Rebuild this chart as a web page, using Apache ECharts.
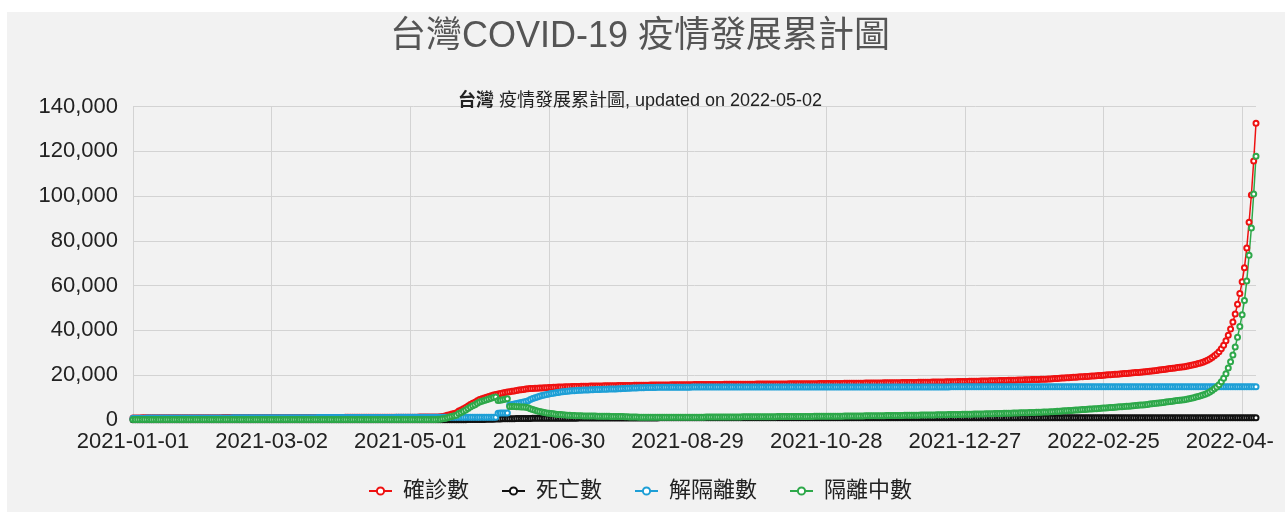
<!DOCTYPE html>
<html>
<head>
<meta charset="utf-8">
<script src="https://cdn.jsdelivr.net/npm/echarts@6.0.0/dist/echarts.min.js"></script>
<style>
  html, body { margin: 0; padding: 0; background: #ffffff; width: 1285px; height: 512px; overflow: hidden; }
  #bg { position: absolute; left: 7px; top: 12px; width: 1278px; height: 500px; background: #f2f2f2; }
  #chart { position: absolute; left: 7px; top: 12px; width: 1266px; height: 500px; }
</style>
</head>
<body>
<div id="bg"></div>
<div id="chart"></div>
<script>
// ---- data (daily, 2021-01-01 .. 2022-05-02) ----
const startDate = '2021-01-01';
const dayCount = 487;
const titleText = '台灣COVID-19 疫情發展累計圖';
const subtitleText = '疫情發展累計圖, updated on 2022-05-02';
const seriesNames = ['確診數', '死亡數', '解隔離數', '隔離中數'];

const confirmed = [
  799,802,806,812,817,819,823,827,828,831,836,838,839,842,845,850,853,855,862,866,868,870,874,881,885,888,889,891,892,907,909,
  911,913,915,918,920,923,925,927,929,932,934,936,937,939,940,942,943,944,945,946,947,948,950,951,953,954,955,955,
  957,960,963,966,970,973,975,978,980,982,985,988,990,992,994,996,998,1000,1003,1005,1008,1010,1012,1014,1016,1018,1020,1022,1024,1027,1030,
  1032,1035,1040,1045,1048,1050,1055,1058,1060,1065,1068,1070,1075,1078,1080,1082,1085,1088,1090,1093,1095,1098,1100,1102,1105,1108,1110,1115,1120,1128,
  1132,1139,1143,1150,1155,1160,1170,1180,1190,1200,1210,1230,1255,1290,1475,1682,2017,2260,2533,2825,3144,3862,4322,4917,5456,6091,6761,7315,7806,8511,8997,
  9342,9716,10076,10400,10734,11050,11298,11491,11694,11968,12222,12402,12542,12719,12857,13041,13235,13422,13555,13707,13822,13933,14005,14059,14114,14156,14216,14267,14340,14411,
  14452,14495,14538,14576,14612,14655,14690,14728,14761,14794,14823,14851,14884,14912,14940,14968,14996,15019,15041,15063,15082,15101,15120,15141,15158,15176,15195,15214,15232,15249,15268,
  15286,15303,15319,15336,15352,15367,15383,15398,15412,15427,15441,15455,15468,15482,15495,15507,15520,15532,15545,15557,15569,15580,15592,15603,15615,15626,15637,15648,15659,15670,15681,
  15690,15699,15708,15717,15726,15735,15744,15752,15761,15770,15778,15787,15795,15804,15812,15820,15829,15837,15845,15853,15861,15869,15877,15885,15893,15901,15909,15917,15925,15933,
  15940,15950,15956,15966,15972,15983,15990,15996,16006,16012,16022,16030,16036,16046,16052,16062,16070,16076,16086,16094,16100,16111,16120,16127,16138,16146,16154,16165,16173,16181,16192,
  16203,16215,16226,16239,16251,16262,16275,16287,16300,16312,16325,16338,16350,16363,16376,16389,16402,16416,16430,16444,16458,16472,16487,16501,16516,16531,16546,16561,16576,16592,
  16608,16624,16641,16657,16674,16691,16708,16726,16743,16761,16779,16797,16816,16835,16854,16873,16893,16913,16933,16953,16974,16995,17016,17038,17060,17082,17104,17127,17150,17174,17198,
  17222,17247,17272,17298,17324,17350,17377,17404,17432,17460,17488,17517,17546,17576,17606,17636,17667,17698,17730,17762,17795,17828,17861,17895,17929,17964,17999,18034,18070,18106,18143,
  18178,18251,18318,18394,18461,18529,18603,18668,18742,18811,18879,18953,19018,19094,19158,19232,19301,19369,19442,19508,19583,19661,19738,19822,19897,19981,20058,20142,
  20221,20300,20380,20460,20540,20620,20700,20790,20880,20970,21060,21150,21250,21350,21460,21570,21690,21810,21930,22060,22190,22320,22460,22600,22740,22880,23020,23160,23300,23440,23580,
  23700,23900,24100,24350,24600,24850,25100,25400,25750,26150,26600,27150,27800,28550,29400,30400,31700,33300,35300,37800,40600,43700,47300,51600,56400,61700,68000,76800,88300,100500,
  115700,132580
];

const deaths = [
  7,7,7,7,7,7,7,7,7,7, 7,7,7,7,7,7,7,7,7,7, 7,7,7,7,7,7,7,7,7,7, 7,
  7,7,7,7,7,7,7,7,7,7, 7,7,7,7,9,9,9,9,9,9, 9,9,9,9,9,9,9,9,
  10,10,10,10,10,10,10,10,10,10, 10,10,10,10,10,10,10,10,10,10, 10,10,10,10,10,10,10,10,10,10, 10,
  10,10,10,10,10,10,10,10,10,10, 11,11,11,11,11,11,11,11,11,11, 11,11,11,11,11,11,11,11,11,11,
  12,12,12,12,12,12,12,12,12,12, 12,12,12,12,12,12,12,13,15,17, 18,19,24,26,29,35,46,50,59,67, 89,
  111,131,166,196,224,255,285,322,348,374, 410,413,427,450,471,490,508,533,555,576, 585,590,595,602,610,617,622,626,631,637,
  640,646,652,659,665,672,677,683,688,694, 699,703,708,712,716,719,723,727,731,735, 739,743,747,751,755,759,764,769,774,779, 784,
  787,789,792,794,796,798,800,802,804,806, 808,810,811,813,814,816,817,818,819,820, 821,822,823,824,825,826,827,828,829,830, 831,
  832,832,833,833,834,834,835,835,836,836, 837,837,838,838,839,839,840,840,841,841, 842,842,843,843,844,844,845,845,845,845,
  845,845,845,845,845,845,845,845,845,845, 846,846,846,846,846,846,846,846,846,846, 847,847,847,847,847,847,847,847,847,847, 847,
  847,847,847,847,847,847,847,847,847,847, 848,848,848,848,848,848,848,848,848,848, 848,848,848,848,848,848,848,848,848,848,
  848,848,848,848,848,848,848,848,848,848, 848,848,848,848,848,849,849,849,849,849, 849,849,849,849,849,850,850,850,850,850, 850,
  850,850,850,850,850,850,850,850,850,850, 850,850,850,850,850,850,850,850,850,850, 851,851,851,851,851,851,851,851,851,851, 851,
  851,851,851,851,851,851,851,851,851,851, 851,851,851,851,852,852,852,852,852,852, 852,852,852,852,852,852,852,852,
  852,852,852,852,852,852,852,852,852,852, 852,852,852,852,852,853,853,853,853,853, 853,853,853,853,853,853,853,853,853,853, 853,
  853,853,853,853,853,853,853,853,853,853, 853,853,853,853,853,853,853,853,853,853, 854,854,854,854,854,855,856,856,857,858,
  860,864
];

const recovered = [
  690,691,695,697,701,703,706,710,712,714,719,721,723,728,730,733,737,739,742,746,748,750,755,757,760,764,766,768,773,775,778,
  781,785,787,791,793,796,800,803,806,810,812,815,819,821,824,828,830,833,837,839,842,846,848,851,855,857,860,864,
  867,871,873,876,880,882,885,889,891,894,898,900,903,907,909,912,916,918,921,925,927,930,934,936,939,943,945,948,952,954,957,
  960,963,967,970,973,976,980,983,986,990,993,996,1000,1003,1006,1010,1013,1016,1020,1023,1026,1030,1033,1036,1040,1043,1046,1050,1053,1056,
  1059,1062,1065,1068,1071,1074,1077,1080,1083,1086,1089,1092,1095,1098,1100,1102,1104,1106,1108,1110,1112,1114,1116,1118,1120,1122,1124,1126,1128,1130,1132,
  1134,1136,1138,1140,1142,1144,1146,2930,2960,2990,3020,3050,6600,6800,7000,7200,7450,7700,7900,8100,8500,9000,9450,9850,10200,10500,10800,11050,11300,11500,
  11700,11880,12050,12200,12340,12470,12590,12700,12800,12900,12990,13060,13120,13180,13230,13280,13330,13380,13420,13460,13500,13540,13580,13620,13650,13680,13710,13740,13770,13800,13830,
  13900,13960,14020,14080,14140,14190,14230,14270,14300,14330,14360,14380,14400,14420,14440,14460,14470,14480,14490,14500,14510,14520,14530,14540,14545,14550,14555,14560,14565,14570,14575,
  14580,14580,14580,14580,14580,14580,14580,14580,14580,14580, 14590,14590,14590,14590,14590,14590,14590,14590,14590,14590, 14600,14600,14600,14600,14600,14600,14600,14600,14600,14600,
  14610,14610,14610,14610,14610,14610,14610,14610,14610,14610, 14620,14620,14620,14620,14620,14620,14620,14620,14620,14620, 14630,14630,14630,14630,14630,14630,14630,14630,14630,14630, 14630,
  14640,14640,14640,14640,14640,14640,14640,14640,14640,14640, 14650,14650,14650,14650,14650,14650,14650,14650,14650,14650, 14660,14660,14660,14660,14660,14660,14660,14660,14660,14660,
  14670,14670,14670,14670,14670,14670,14670,14670,14670,14670, 14680,14680,14680,14680,14680,14680,14680,14680,14680,14680, 14690,14690,14690,14690,14690,14690,14690,14690,14690,14690, 14690,
  14700,14700,14700,14700,14700,14700,14700,14700,14700,14700, 14700,14700,14700,14700,14700,14700,14700,14700,14700,14700, 14700,14700,14700,14700,14700,14700,14700,14700,14700,14700, 14700,
  14710,14710,14710,14710,14710,14710,14710,14710,14710,14710, 14710,14710,14710,14710,14710,14710,14710,14710,14710,14710, 14710,14710,14710,14710,14710,14710,14710,14710,
  14720,14720,14720,14720,14720,14720,14720,14720,14720,14720, 14720,14720,14720,14720,14720,14720,14720,14720,14720,14720, 14720,14720,14720,14720,14720,14720,14720,14720,14720,14720, 14720,
  14730,14730,14730,14730,14730,14730,14730,14730,14730,14730, 14730,14730,14730,14730,14730,14730,14730,14730,14730,14730, 14730,14730,14730,14730,14730,14730,14730,14730,14730,14730,
  14730,14730
];

const active = [
  109,111,111,115,116,116,117,117,116,117,117,117,116,114,115,117,116,116,120,120,120,120,119,124,125,124,123,123,119,132,131,
  130,128,128,127,127,127,125,124,123,122,122,121,118,118,116,114,113,111,108,107,105,102,102,100,98,97,95,91,
  90,89,90,90,90,91,90,89,89,88,87,88,87,85,85,84,82,82,82,80,81,80,78,78,77,75,75,74,72,73,73,
  72,72,73,75,75,74,75,75,74,75,75,74,75,75,74,72,72,72,70,70,69,68,67,66,65,65,64,65,67,72,
  73,77,78,82,84,86,93,100,107,114,121,138,160,192,375,580,913,1154,1425,1715,2032,2748,3206,3799,4336,4969,5637,6189,6678,7381,7865,
  8208,8580,8938,9260,9592,9906,10152,8561,8734,8978,9202,9352,5942,5919,5857,5841,5785,5722,5655,5607,5322,4933,4555,4209,3914,3656,3416,3217,3040,2911,
  2752,2615,2488,2376,2272,2185,2100,2028,1961,1894,1833,1791,1764,1732,1710,1688,1666,1639,1621,1603,1582,1561,1540,1521,1508,1496,1485,1474,1462,1449,1438,
  1386,1343,1299,1256,1212,1177,1153,1128,1112,1097,1081,1075,1068,1062,1055,1047,1050,1052,1055,1057,1059,1060,1062,1063,1070,1076,1082,1088,1094,1100,1106,
  1110,1119,1128,1137,1146,1155,1164,1172,1181,1190,1188,1197,1205,1214,1222,1230,1239,1247,1255,1263,1261,1269,1277,1285,1293,1301,1309,1317,1325,1333,
  1330,1340,1346,1356,1362,1373,1380,1386,1396,1402,1402,1410,1416,1426,1432,1442,1450,1456,1466,1474,1470,1481,1490,1497,1508,1516,1524,1535,1543,1551,1562,
  1563,1575,1586,1599,1611,1622,1635,1647,1660,1672,1675,1688,1700,1713,1726,1739,1752,1766,1780,1794,1798,1812,1827,1841,1856,1871,1886,1901,1916,1932,
  1938,1954,1971,1987,2004,2021,2038,2056,2073,2091,2099,2117,2136,2155,2174,2193,2213,2233,2253,2273,2284,2305,2326,2348,2370,2392,2414,2437,2460,2484,2508,
  2522,2547,2572,2598,2624,2650,2677,2704,2732,2760,2788,2817,2846,2876,2906,2936,2967,2998,3030,3062,3095,3128,3161,3195,3229,3264,3299,3334,3370,3406,3443,
  3468,3541,3608,3684,3751,3819,3893,3958,4032,4101,4169,4243,4308,4384,4448,4522,4591,4659,4732,4798,4873,4951,5028,5112,5187,5271,5348,5432,
  5501,5580,5660,5740,5820,5900,5980,6070,6160,6250,6340,6430,6530,6630,6740,6850,6970,7090,7210,7340,7470,7600,7740,7880,8020,8160,8300,8440,8580,8720,8860,
  8970,9170,9370,9620,9870,10120,10370,10670,11020,11420,11870,12420,13070,13820,14670,15670,16970,18570,20570,23070,25870,28970,32570,36870,41670,46970,53270,62070,73570,85770,
  100970,117850
];

// category labels: one per day
const dates = [];
(function () {
  const t0 = Date.UTC(2021, 0, 1);
  for (let i = 0; i < dayCount; i++) {
    const d = new Date(t0 + i * 86400000);
    const m = String(d.getUTCMonth() + 1).padStart(2, '0');
    const dd = String(d.getUTCDate()).padStart(2, '0');
    dates.push(d.getUTCFullYear() + '-' + m + '-' + dd);
  }
})();

const colors = ['#ee1111', '#111111', '#1e9fd6', '#2ea84a'];
const FONT = "'Liberation Sans', Arial, 'Noto Sans CJK TC', sans-serif";

function fmt(v) { return String(v).replace(/\B(?=(\d{3})+(?!\d))/g, ','); }

function mkSeries(name, data, color) {
  return {
    name: name,
    type: 'line',
    data: data,
    symbol: 'emptyCircle',
    symbolSize: 5,
    showAllSymbol: true,
    showSymbol: true,
    sampling: null,
    lineStyle: { color: color, width: 1.5 },
    itemStyle: { color: color, borderColor: color, borderWidth: 1.6 },
    emphasis: { disabled: true },
    animation: false
  };
}

const chart = echarts.init(document.getElementById('chart'), null, { renderer: 'canvas' });
chart.setOption({
  animation: false,
  backgroundColor: 'transparent',
  textStyle: { fontFamily: FONT },
  title: [
    {
      text: titleText,
      left: 'center',
      top: 2,
      textStyle: { fontSize: 36, fontWeight: 'normal', color: '#555555', fontFamily: FONT }
    },
    {
      text: '{b|台灣} ' + subtitleText,
      left: 'center',
      top: 75,
      textStyle: {
        fontSize: 18, fontWeight: 'normal', color: '#222222', fontFamily: FONT,
        rich: { b: { fontSize: 18, fontWeight: 'bold', color: '#222222', fontFamily: FONT } }
      }
    }
  ],
  legend: {
    data: seriesNames,
    left: 'center',
    top: 463,
    itemWidth: 23,
    itemHeight: 9,
    itemGap: 32,
    selectedMode: false,
    textStyle: { fontSize: 22, color: '#222222', fontFamily: FONT, padding: [0, 0, 0, 6] }
  },
  grid: {
    left: 126, top: 94.7, width: 1123, height: 313,
    containLabel: false, outerBoundsMode: 'none'
  },
  xAxis: {
    type: 'category',
    data: dates,
    boundaryGap: false,
    axisLine: { show: true, lineStyle: { color: '#cccccc', width: 1 } },
    axisTick: { show: false },
    axisLabel: {
      interval: 59, fontSize: 22, color: '#222222', margin: 11, fontFamily: FONT,
      hideOverlap: false
    },
    splitLine: { show: true, interval: 59, lineStyle: { color: '#d3d3d3', width: 1 } }
  },
  yAxis: {
    type: 'value',
    min: 0, max: 140000, interval: 20000,
    axisLine: { show: false },
    axisTick: { show: false },
    axisLabel: { fontSize: 22, color: '#222222', margin: 15, fontFamily: FONT, formatter: fmt },
    splitLine: { show: true, lineStyle: { color: '#d3d3d3', width: 1 } }
  },
  series: [
    mkSeries(seriesNames[0], confirmed, colors[0]),
    mkSeries(seriesNames[1], deaths, colors[1]),
    mkSeries(seriesNames[2], recovered, colors[2]),
    mkSeries(seriesNames[3], active, colors[3])
  ]
});
if (confirmed.length !== dayCount || deaths.length !== dayCount || recovered.length !== dayCount || active.length !== dayCount) {
  console.error('length mismatch', confirmed.length, deaths.length, recovered.length, active.length);
}
</script>
</body>
</html>
